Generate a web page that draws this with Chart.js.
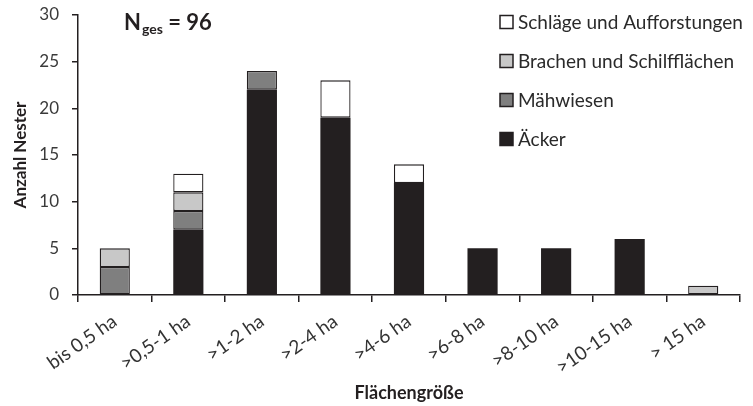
<!DOCTYPE html>
<html>
<head>
<meta charset="utf-8">
<script src="https://cdn.jsdelivr.net/npm/chart.js@4.4.1/dist/chart.umd.min.js"></script>
<style>
  html, body { margin: 0; padding: 0; background: #fff; }
  #wrap { width: 753px; height: 406px; position: relative; }
</style>
</head>
<body>
<div id="wrap"><canvas id="myChart" width="753" height="406"></canvas></div>
<script>
// categories and stacked series (nests per field size class)
var categories = ['bis 0,5 ha', '>0,5-1 ha', '>1-2 ha', '>2-4 ha', '>4-6 ha', '>6-8 ha', '>8-10 ha', '>10-15 ha', '> 15 ha'];
var aecker     = [0, 7, 22, 19, 12, 5, 5, 6, 0];
var maehwiesen = [3, 2, 2, 0, 0, 0, 0, 0, 0];
var brachen    = [2, 2, 0, 0, 0, 0, 0, 0, 1];
var schlaege   = [0, 2, 0, 4, 2, 0, 0, 0, 0];
var y_ticks = [0, 5, 10, 15, 20, 25, 30];
var n_total = 96;

const FONT = 'Lato, "Open Sans", sans-serif';
const INK = '#231f20';

// legend drawn inside the plot, top right, reversed order like the original
const sideLegend = {
    id: 'sideLegend',
    afterDraw(chart) {
        const c = chart.ctx;
        const sets = chart.data.datasets.slice().reverse();
        c.save();
        c.font = '19px ' + FONT;
        c.textBaseline = 'middle';
        sets.forEach((ds, i) => {
            const y = 22 + i * 39;
            c.fillStyle = ds.backgroundColor;
            c.fillRect(500, y - 6.5, 13, 13);
            c.strokeStyle = INK;
            c.lineWidth = 1.5;
            c.strokeRect(500, y - 6.5, 13, 13);
            c.fillStyle = '#2a2a2a';
            c.fillText(ds.label, 518, y + 1);
        });
        // N_ges = 96
        c.fillStyle = INK;
        c.textBaseline = 'alphabetic';
        c.font = 'bold 22px ' + FONT;
        c.fillText('N', 124, 30);
        let x = 124 + c.measureText('N').width;
        c.font = 'bold 14px ' + FONT;
        c.fillText('ges', x + 1, 34);
        x += c.measureText('ges').width + 1;
        c.font = 'bold 22px ' + FONT;
        c.fillText(' = ' + n_total, x, 30);
        c.restore();
    }
};

function makeSet(label, data, color, border) {
    return {
        label: label,
        data: data.map(v => v === 0 ? null : v),
        backgroundColor: color,
        borderColor: INK,
        borderWidth: border,
        borderSkipped: false,
        inflateAmount: 0,
        barPercentage: 0.41,
        categoryPercentage: 1.0
    };
}

const ctx = document.getElementById('myChart').getContext('2d');
const myChart = new Chart(ctx, {
    type: 'bar',
    data: {
        labels: categories,
        datasets: [
            // black bars need no separate outline (avoids light seams)
            makeSet('Äcker', aecker, INK, 0),
            makeSet('Mähwiesen', maehwiesen, '#7f7f7f', 1.3),
            makeSet('Brachen und Schilfflächen', brachen, '#c8c8c8', 1.3),
            makeSet('Schläge und Aufforstungen', schlaege, '#ffffff', 1.3)
        ]
    },
    options: {
        responsive: false,
        animation: false,
        layout: { padding: { top: 15, right: 13, left: 6, bottom: 2 } },
        plugins: {
            legend: { display: false },
            tooltip: { enabled: false }
        },
        scales: {
            x: {
                stacked: true,
                offset: true,
                grid: { display: true, drawOnChartArea: false, offset: true, color: INK, lineWidth: 1.5, tickLength: 7 },
                border: { display: true, color: INK, width: 1.5 },
                ticks: {
                    color: '#333', font: { family: FONT, size: 19 },
                    minRotation: 35, maxRotation: 35, autoSkip: false, padding: 8
                },
                title: { display: true, text: 'Flächengröße', color: INK, font: { family: FONT, size: 18, weight: 'bold' }, padding: { top: 0, bottom: 0 } },
                afterFit(scale) { scale.height = 109; }
            },
            y: {
                stacked: true,
                min: 0, max: 30,
                afterBuildTicks(scale) { scale.ticks = y_ticks.map(v => ({ value: v })); },
                grid: { display: true, drawOnChartArea: false, color: INK, lineWidth: 1.5, tickLength: 6 },
                border: { display: true, color: INK, width: 1.5 },
                ticks: { color: '#3a3a3a', font: { family: FONT, size: 17 }, padding: 13 },
                title: { display: true, text: 'Anzahl Nester', color: INK, font: { family: FONT, size: 17, weight: 'bold' }, padding: { bottom: 0 } },
                afterFit(scale) {
                    scale.width = 72;
                    scale.paddingTop = 0;
                    scale.paddingBottom = 0;
                }
            }
        }
    },
    plugins: [sideLegend]
});
</script>
</body>
</html>
